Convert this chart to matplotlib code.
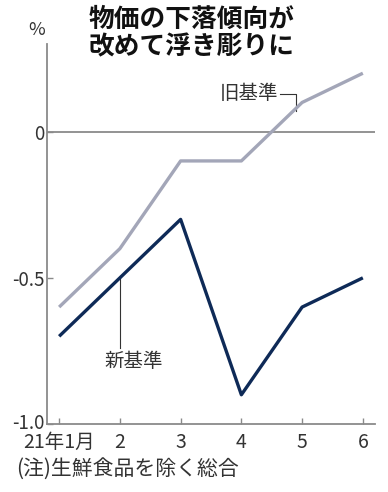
import matplotlib.pyplot as plt
import matplotlib.transforms as mtransforms

plt.rcParams['font.family'] = ['Noto Sans CJK JP', 'DejaVu Sans']

months = ["21年1月", "2", "3", "4", "5", "6"]
old_base = [-0.6, -0.4, -0.1, -0.1, 0.1, 0.2]
new_base = [-0.7, -0.5, -0.3, -0.9, -0.6, -0.5]
yticks = [0, -0.5, -1.0]
ytick_labels = ["0", "-0.5", "-1.0"]

x = list(range(len(months)))

fig = plt.figure(figsize=(3.88, 4.92), dpi=100)
ax = fig.add_axes([47/388, 1-424/492, (375-47)/388, (424-44)/492])

ax.axhline(0, color="#8a8a8a", lw=1.3, zorder=1)
ax.plot(x, old_base, color="#a3a6b8", lw=2.4, solid_capstyle="butt", zorder=3)
ax.plot(x, new_base, color="#0e2a57", lw=2.4, solid_capstyle="butt", zorder=3)

ax.set_xlim(-0.2, 5.2)
ax.set_ylim(-1.0, 0.3)
ax.set_xticks(x)
ax.set_xticklabels(months)
ax.set_yticks(yticks)
ax.set_yticklabels(ytick_labels)
ax.tick_params(direction="in", length=4, width=1, color="#8a8a8a",
               labelsize=13.5, labelcolor="#333333", pad=2)
ax.tick_params(axis="x", labelsize=14, pad=6)

# nudge the lowest y label up a little so it clears the first month label
lbl = ax.get_yticklabels()[-1]
lbl.set_transform(lbl.get_transform() +
                  mtransforms.ScaledTranslation(0, 3/100, fig.dpi_scale_trans))

for s in ["top", "right"]:
    ax.spines[s].set_visible(False)
for s in ["left", "bottom"]:
    ax.spines[s].set_color("#8a8a8a")
    ax.spines[s].set_linewidth(1.3)

# labels for the two series
ax.plot([x[4] - 0.1, x[4] - 0.1, x[4] - 0.37], [0.07, 0.13, 0.13],
        color="#333333", lw=0.8, zorder=2)
ax.text(x[4] - 0.4, 0.13, "旧基準", ha="right", va="center",
        fontsize=14, color="#333333")
ax.plot([x[1], x[1]], [new_base[1], -0.74], color="#333333", lw=0.8, zorder=2)
ax.text(x[1] + 0.22, -0.75, "新基準", ha="center", va="top",
        fontsize=14, color="#333333")

fig.text(37/388, 1-30/492, "%", ha="center", va="center",
         fontsize=13, color="#333333")
fig.text(192/388, 1-33/492, "物価の下落傾向が\n改めて浮き彫りに", ha="center",
         va="center", fontsize=18.5, fontweight="bold", linespacing=1.0,
         color="#111111")
fig.text(16/388, 1-469/492, "(注)生鮮食品を除く総合", ha="left", va="center",
         fontsize=15, color="#333333")

fig.savefig("out.png", dpi=100)
